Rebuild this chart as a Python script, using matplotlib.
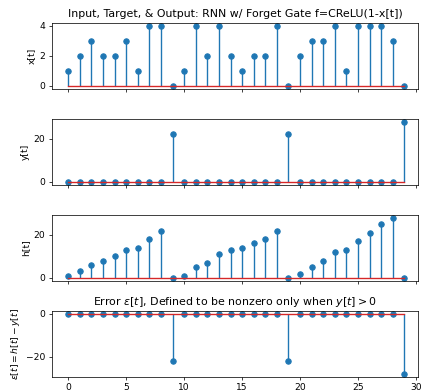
import matplotlib
matplotlib.use("Agg")
import matplotlib.pyplot as plt
import numpy as np

t = list(range(30))
x_vals = [1, 2, 3, 2, 2, 3, 1, 4, 4, 0, 1, 4, 2, 4, 2, 1, 2, 2, 4, 0,
          2, 3, 3, 4, 1, 4, 4, 4, 3, 0]
y_vals = [0, 0, 0, 0, 0, 0, 0, 0, 0, 22, 0, 0, 0, 0, 0, 0, 0, 0, 0, 22,
          0, 0, 0, 0, 0, 0, 0, 0, 0, 28]
h_vals = [1, 3, 6, 8, 10, 13, 14, 18, 22, 0, 1, 5, 7, 11, 13, 14, 16, 18, 22, 0,
          2, 5, 8, 12, 13, 17, 21, 25, 28, 0]
e_vals = [0, 0, 0, 0, 0, 0, 0, 0, 0, -22, 0, 0, 0, 0, 0, 0, 0, 0, 0, -22,
          0, 0, 0, 0, 0, 0, 0, 0, 0, -28]

W, H = 421, 391
dpi = W / 6.4
fig, axes = plt.subplots(4, 1, sharex=True, figsize=(6.4, H / dpi), dpi=dpi)
fig.subplots_adjust(left=51.7 / W, right=418.3 / W,
                    top=1 - 22.5 / H, bottom=1 - 377 / H, hspace=0.45)

series = [x_vals, y_vals, h_vals, e_vals]
labels = ["x[t]", "y[t]", "h[t]", r"$\varepsilon[t] = h[t] - y[t]$"]
for ax, s, lab in zip(axes, series, labels):
    ax.stem(t, s)
    ax.set_ylabel(lab)

axes[0].set_title("Input, Target, & Output: RNN w/ Forget Gate f=CReLU(1-x[t])")
axes[3].set_title(r"Error $\varepsilon[t]$, Defined to be nonzero only when $y[t] > 0$")
axes[3].set_xlim(-1.43, 30.2)

fig.savefig("out.png", dpi=dpi)
